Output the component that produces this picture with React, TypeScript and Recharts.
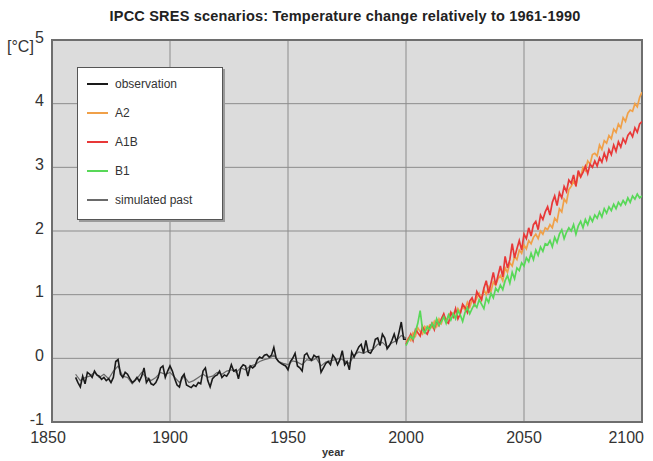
import React from 'react';
import {
  LineChart,
  Line,
  XAxis,
  YAxis,
  CartesianGrid,
  ReferenceArea,
} from 'recharts';

// observation, yearly 1860-2000
const obsStart = 1860;
const observation = [
  -0.30, -0.38, -0.45, -0.28, -0.40, -0.22, -0.25, -0.30, -0.20, -0.26,
  -0.28, -0.33, -0.30, -0.35, -0.32, -0.38, -0.30, -0.05, -0.02, -0.25,
  -0.30, -0.22, -0.25, -0.32, -0.38, -0.35, -0.30, -0.36, -0.28, -0.15,
  -0.38, -0.32, -0.40, -0.42, -0.38, -0.30, -0.15, -0.12, -0.30, -0.20,
  -0.12, -0.20, -0.32, -0.42, -0.45, -0.30, -0.25, -0.42, -0.44, -0.46,
  -0.42, -0.44, -0.38, -0.40, -0.20, -0.15, -0.35, -0.45, -0.32, -0.28,
  -0.26, -0.20, -0.30, -0.26, -0.28, -0.22, -0.10, -0.20, -0.18, -0.32,
  -0.15, -0.10, -0.12, -0.28, -0.12, -0.15, -0.12, -0.02, 0.02, 0.00,
  0.05, 0.06, 0.02, 0.05, 0.17, 0.00, -0.05, -0.08, -0.10, -0.12,
  -0.18, -0.05, 0.00, 0.08, -0.12, -0.15, -0.20, 0.05, 0.08, 0.00,
  -0.03, 0.05, 0.02, 0.03, -0.22, -0.15, -0.08, -0.05, -0.10, 0.05,
  0.00, -0.10, -0.02, 0.12, -0.10, -0.05, -0.18, 0.10, 0.02, 0.10,
  0.18, 0.22, 0.08, 0.28, 0.10, 0.08, 0.15, 0.30, 0.32, 0.20,
  0.38, 0.32, 0.15, 0.20, 0.28, 0.38, 0.25, 0.40, 0.57, 0.30,
  0.30,
];

// simulated past, every 2 years 1860-2000
const pastStart = 1860;
const pastStep = 2;
const simulatedPast = [
  -0.25, -0.35, -0.30, -0.28, -0.22, -0.30, -0.25, -0.32, -0.20, -0.12,
  -0.28, -0.30, -0.40, -0.32, -0.22, -0.30, -0.35, -0.30, -0.22, -0.25,
  -0.22, -0.30, -0.38, -0.28, -0.38, -0.35, -0.30, -0.25, -0.30, -0.28,
  -0.22, -0.25, -0.20, -0.18, -0.22, -0.15, -0.18, -0.12, -0.10, -0.05,
  -0.02, 0.00, 0.05, -0.05, -0.08, -0.10, -0.04, -0.06, -0.10, -0.02,
  -0.04, 0.00, -0.12, -0.06, -0.04, -0.02, 0.00, -0.04, -0.08, 0.05,
  0.10, 0.08, 0.12, 0.14, 0.22, 0.25, 0.18, 0.24, 0.28, 0.36,
  0.32,
];

// scenarios, yearly 2000-2100
const scenStart = 2000;
const a2 = [
  0.25, 0.32, 0.28, 0.40, 0.35, 0.48, 0.42, 0.38, 0.50, 0.45,
  0.52, 0.48, 0.58, 0.50, 0.62, 0.55, 0.68, 0.60, 0.66, 0.72,
  0.70, 0.65, 0.78, 0.72, 0.82, 0.76, 0.88, 0.80, 0.92, 0.86,
  0.95, 1.02, 0.92, 1.08, 1.00, 1.12, 1.05, 1.20, 1.15, 1.25,
  1.30, 1.22, 1.42, 1.35, 1.50, 1.45, 1.60, 1.55, 1.70, 1.65,
  1.78, 1.72, 1.85, 1.80, 1.90, 1.95, 1.88, 2.00, 1.95, 2.05,
  2.02, 2.10, 2.05, 2.20, 2.15, 2.35, 2.30, 2.50, 2.45, 2.65,
  2.70, 2.78, 2.72, 2.90, 2.85, 3.00, 2.95, 3.10, 3.05, 3.20,
  3.22, 3.18, 3.35, 3.28, 3.42, 3.38, 3.50, 3.45, 3.60, 3.55,
  3.68, 3.62, 3.78, 3.72, 3.85, 3.90, 3.88, 4.00, 3.95, 4.10,
  4.18,
];
const a1b = [
  0.22, 0.30, 0.38, 0.28, 0.45, 0.40, 0.35, 0.50, 0.42, 0.38,
  0.48, 0.55, 0.45, 0.60, 0.52, 0.62, 0.70, 0.58, 0.55, 0.72,
  0.65, 0.78, 0.62, 0.70, 0.85, 0.80, 0.72, 0.90, 0.95, 0.85,
  1.05, 0.98, 0.92, 1.10, 1.22, 1.02, 1.18, 1.35, 1.15, 1.30,
  1.45, 1.28, 1.60, 1.42, 1.55, 1.80, 1.58, 1.72, 1.85, 1.70,
  1.95, 1.88, 2.05, 1.92, 2.10, 2.15, 2.02, 2.25, 2.18, 2.30,
  2.38, 2.25, 2.45, 2.55, 2.40, 2.60, 2.52, 2.70, 2.62, 2.80,
  2.75, 2.88, 2.70, 2.95, 2.85, 2.92, 3.02, 2.90, 3.05, 3.00,
  3.10, 3.02, 3.15, 3.08, 3.22, 3.12, 3.28, 3.20, 3.35, 3.25,
  3.40, 3.32, 3.45, 3.38, 3.50, 3.55, 3.48, 3.62, 3.55, 3.68,
  3.72,
];
const b1 = [
  0.20, 0.28, 0.35, 0.30, 0.42, 0.55, 0.75, 0.45, 0.40, 0.50,
  0.45, 0.55, 0.48, 0.62, 0.52, 0.58, 0.65, 0.55, 0.68, 0.60,
  0.70, 0.62, 0.75, 0.68, 0.58, 0.72, 0.80, 0.70, 0.78, 0.85,
  0.80, 0.92, 0.85, 0.78, 0.95, 0.88, 1.02, 0.95, 1.10, 1.05,
  1.15, 1.08, 1.22, 1.30, 1.18, 1.35, 1.25, 1.42, 1.38, 1.50,
  1.45, 1.58, 1.52, 1.65, 1.55, 1.70, 1.62, 1.75, 1.68, 1.80,
  1.78, 1.85, 1.75, 1.90, 1.82, 1.95, 2.02, 1.88, 1.98, 2.05,
  2.00, 2.10, 1.95, 2.08, 2.15, 2.05, 2.18, 2.10, 2.22, 2.15,
  2.25, 2.20, 2.30, 2.22, 2.35, 2.28, 2.38, 2.32, 2.42, 2.35,
  2.45, 2.40, 2.48, 2.42, 2.52, 2.45, 2.55, 2.50, 2.58, 2.52,
  2.55,
];

const xTicks = [1850, 1900, 1950, 2000, 2050, 2100];
const yTicks = [-1, 0, 1, 2, 3, 4, 5];

const legendItems = [
  { name: 'observation', color: '#1a1a1a', width: 2.4 },
  { name: 'A2', color: '#f0a048', width: 1.6 },
  { name: 'A1B', color: '#e83838', width: 1.8 },
  { name: 'B1', color: '#58d858', width: 2.2 },
  { name: 'simulated past', color: '#6a6a6a', width: 1.4 },
];

const toPoints = (values: number[], start: number, step = 1) =>
  values.map((v, i) => ({ year: start + i * step, value: v }));

const obsData = toPoints(observation, obsStart);
const pastData = toPoints(simulatedPast, pastStart, pastStep);
const a2Data = toPoints(a2, scenStart);
const a1bData = toPoints(a1b, scenStart);
const b1Data = toPoints(b1, scenStart);

const font = '"Liberation Sans", Arial, sans-serif';

const XTick = (props: any) => {
  const { x, y, payload } = props;
  const v = payload.value;
  let anchor: 'middle' | 'end' = 'middle';
  let dx = 0;
  if (v === 2100) {
    anchor = 'end';
    dx = 2;
  }
  if (v === 1850) dx = -4;
  return (
    <text
      x={x + dx}
      y={y + 2}
      dy="0.71em"
      textAnchor={anchor}
      fill="#333"
      fontSize={16}
      fontFamily={font}
    >
      {v}
    </text>
  );
};

const YTick = (props: any) => {
  const { x, y, payload } = props;
  return (
    <text
      x={x}
      y={y - 3}
      dy="0.355em"
      textAnchor="end"
      fill="#333"
      fontSize={16}
      fontFamily={font}
    >
      {payload.value}
    </text>
  );
};

export default function App() {
  return (
    <div
      style={{
        position: 'absolute',
        left: 0,
        top: 0,
        width: 653,
        height: 461,
        background: '#fff',
        fontFamily: font,
      }}
    >
      <div
        style={{
          position: 'absolute',
          left: 0,
          width: 690,
          top: 8,
          textAlign: 'center',
          fontSize: 14.5,
          letterSpacing: 0.2,
          fontWeight: 'bold',
          color: '#222',
        }}
      >
        IPCC SRES scenarios: Temperature change relatively to 1961-1990
      </div>
      <div style={{ position: 'absolute', left: 7, top: 38, fontSize: 16, color: '#333' }}>
        [°C]
      </div>
      <div
        style={{
          position: 'absolute',
          left: 322,
          top: 446,
          fontSize: 11,
          fontWeight: 'bold',
          color: '#333',
        }}
      >
        year
      </div>

      <LineChart
        width={653}
        height={461}
        margin={{ top: 40, right: 11, left: 12, bottom: 9 }}
      >
        <CartesianGrid
          stroke="#8c8c8c"
          strokeWidth={1}
          fill="#dcdcdc"
          fillOpacity={1}
        />
        <XAxis
          type="number"
          dataKey="year"
          domain={[1850, 2100]}
          ticks={xTicks}
          allowDataOverflow
          axisLine={false}
          tickLine={false}
          height={30}
          tick={<XTick />}
          interval={0}
        />
        <YAxis
          type="number"
          domain={[-1, 5]}
          ticks={yTicks}
          allowDataOverflow
          axisLine={false}
          tickLine={false}
          width={40}
          tick={<YTick />}
          interval={0}
        />
        <Line
          data={pastData}
          dataKey="value"
          stroke="#6a6a6a"
          strokeWidth={1.2}
          dot={false}
          activeDot={false}
          isAnimationActive={false}
        />
        <Line
          data={obsData}
          dataKey="value"
          stroke="#1a1a1a"
          strokeWidth={1.6}
          dot={false}
          activeDot={false}
          isAnimationActive={false}
        />
        <Line
          data={a2Data}
          dataKey="value"
          stroke="#f0a048"
          strokeWidth={1.7}
          dot={false}
          activeDot={false}
          isAnimationActive={false}
        />
        <Line
          data={a1bData}
          dataKey="value"
          stroke="#e83838"
          strokeWidth={1.7}
          dot={false}
          activeDot={false}
          isAnimationActive={false}
        />
        <Line
          data={b1Data}
          dataKey="value"
          stroke="#58d858"
          strokeWidth={1.7}
          dot={false}
          activeDot={false}
          isAnimationActive={false}
        />
        <ReferenceArea
          x1={1850}
          x2={2100}
          y1={-1}
          y2={5}
          fill="none"
          fillOpacity={0}
          stroke="#6e6e6e"
          strokeWidth={2}
          ifOverflow="visible"
        />
      </LineChart>

      <div
        style={{
          position: 'absolute',
          left: 77,
          top: 67,
          width: 144,
          height: 151,
          background: '#fff',
          border: '1px solid #555',
          boxShadow: '2px 2px 0 #9a9a9a',
        }}
      >
        {legendItems.map((item, i) => (
          <div
            key={item.name}
            style={{
              position: 'absolute',
              left: 9,
              top: 9 + i * 29,
              height: 14,
              display: 'flex',
              alignItems: 'center',
            }}
          >
            <div
              style={{
                width: 21,
                height: item.width,
                background: item.color,
                marginRight: 7,
              }}
            />
            <span style={{ fontSize: 12, color: '#333' }}>{item.name}</span>
          </div>
        ))}
      </div>
    </div>
  );
}
